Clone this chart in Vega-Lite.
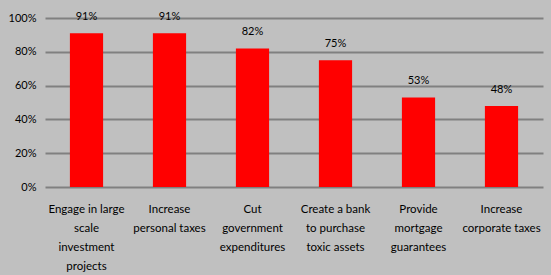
{
  "$schema": "https://vega.github.io/schema/vega-lite/v6.json",
  "autosize": "none",
  "width": 498,
  "height": 169,
  "padding": {"left": 45, "top": 18, "right": 8, "bottom": 88},
  "background": "#c0c0c0",
  "config": {"view": {"stroke": null}, "font": "Lato"},
  "data": {"values": [
    {"option": "Engage in large|scale|investment|projects", "value": 91, "label": "91%"},
    {"option": "Increase|personal taxes", "value": 91, "label": "91%"},
    {"option": "Cut|government|expenditures", "value": 82, "label": "82%"},
    {"option": "Create a bank|to purchase|toxic assets", "value": 75, "label": "75%"},
    {"option": "Provide|mortgage|guarantees", "value": 53, "label": "53%"},
    {"option": "Increase|corporate taxes", "value": 48, "label": "48%"}
  ]},
  "encoding": {
    "x": {"field": "option", "type": "nominal", "sort": null,
      "scale": {"paddingInner": 0.6, "paddingOuter": 0.3},
      "axis": {"title": null, "labelAngle": 0, "domain": false, "ticks": false,
        "labelExpr": "split(datum.label, '|')", "labelFontSize": 11.5, "labelColor": "#000000",
        "labelBaseline": "top", "labelPadding": 16, "labelLineHeight": 19, "labelFont": "Lato"}},
    "y": {"field": "value", "type": "quantitative",
      "scale": {"domain": [0, 100]},
      "axis": {"title": null, "values": [0, 20, 40, 60, 80, 100], "labelExpr": "datum.value + '%'",
        "domain": false, "ticks": false, "gridColor": "#808080", "gridWidth": 2, "gridOpacity": 1,
        "labelFontSize": 11, "labelColor": "#000000", "labelPadding": 9}}
  },
  "layer": [
    {"mark": {"type": "bar", "color": "#ff0000"}},
    {"mark": {"type": "text", "baseline": "middle", "dy": -16, "fontSize": 11, "color": "#000000"},
     "encoding": {"text": {"field": "label"}}}
  ]
}
